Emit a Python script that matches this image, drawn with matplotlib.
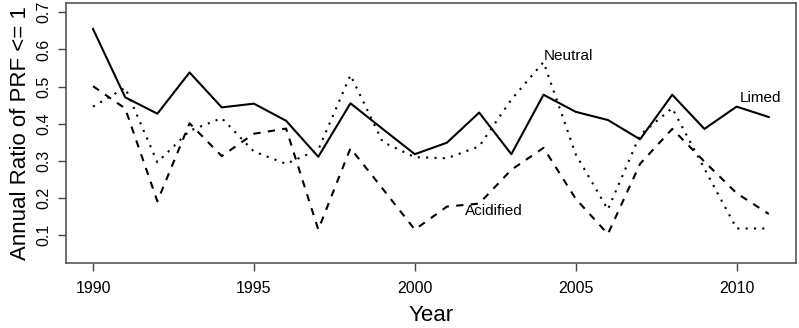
import matplotlib
matplotlib.use("Agg")
import matplotlib.pyplot as plt

plt.rcParams['font.family'] = ['Liberation Sans', 'DejaVu Sans']

# annual ratio of PRF <= 1
years = list(range(1990, 2012))
limed = [0.655, 0.471, 0.427, 0.538, 0.444, 0.454, 0.408, 0.311, 0.455, 0.386, 0.318,
         0.349, 0.430, 0.318, 0.478, 0.432, 0.410, 0.358, 0.478, 0.386, 0.446, 0.418]
neutral = [0.446, 0.497, 0.296, 0.381, 0.415, 0.325, 0.292, 0.330, 0.531, 0.351, 0.310,
           0.307, 0.339, 0.465, 0.566, 0.318, 0.169, 0.370, 0.442, 0.279, 0.118, 0.118]
acidified = [0.501, 0.441, 0.191, 0.401, 0.313, 0.373, 0.387, 0.115, 0.334, 0.225, 0.115,
             0.177, 0.185, 0.276, 0.335, 0.198, 0.103, 0.292, 0.386, 0.298, 0.213, 0.157]

xticks = [1990, 1995, 2000, 2005, 2010]
yticks = [0.1, 0.2, 0.3, 0.4, 0.5, 0.6, 0.7]

fig = plt.figure(figsize=(7.99, 3.28), dpi=100)
ax = fig.add_axes([0.0826, 0.197, 0.9134, 0.795])

# the three series, R-style line types
ax.plot(years, limed, color='black', lw=1.5, linestyle='-')
ax.plot(years, neutral, color='black', lw=1.5, linestyle=(0, (1, 3)))
ax.plot(years, acidified, color='black', lw=1.5, linestyle=(0, (3.5, 3.5)))

# in-plot labels
ax.text(2004, 0.583, 'Neutral', fontsize=11, ha='left', va='center')
ax.text(2010.1, 0.469, 'Limed', fontsize=11, ha='left', va='center')
ax.text(2001.55, 0.166, 'Acidified', fontsize=11, ha='left', va='center')

# axes formatting
ax.set_xlim(1989.16, 2011.84)
ax.set_ylim(0.024, 0.726)
ax.set_xticks(xticks)
ax.set_yticks(yticks)
ax.set_xticklabels([str(t) for t in xticks], fontsize=11.5)
ax.set_yticklabels([f'{t:.1f}' for t in yticks], fontsize=11.5, rotation=90, va='center')
ax.tick_params(axis='both', length=5.5, width=1, color='#444444')
ax.tick_params(axis='x', pad=7)
ax.tick_params(axis='y', pad=5)
for s in ax.spines.values():
    s.set_color('#555555')
    s.set_linewidth(1.2)

ax.set_xlabel('Year', fontsize=16, labelpad=7)
ax.set_ylabel('Annual Ratio of PRF <= 1', fontsize=16, labelpad=4)

fig.savefig('out.png', dpi=100)
